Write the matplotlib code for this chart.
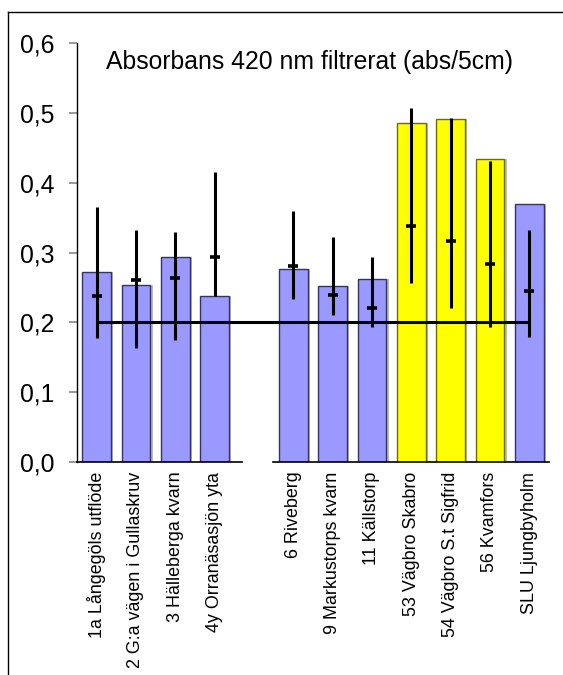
import numpy as np
import matplotlib
matplotlib.use("Agg")
import matplotlib.pyplot as plt
from matplotlib.lines import Line2D

plt.rcParams['font.family'] = ['Liberation Sans', 'DejaVu Sans']

categories = ["1a Långegöls utflöde", "2 G:a vägen i Gullaskruv", "3 Hälleberga kvarn",
              "4y Orranäsasjön yta", "", "6 Riveberg", "9 Markustorps kvarn", "11 Källstorp",
              "53 Vägbro Skabro", "54 Vägbro S.t Sigfrid", "56 Kvamfors", "SLU Ljungbyholm"]
bar_values = [0.272, 0.253, 0.293, 0.237, np.nan, 0.277, 0.252, 0.262, 0.485, 0.491, 0.434, 0.369]
err_high = [0.365, 0.332, 0.330, 0.415, np.nan, 0.359, 0.322, 0.294, 0.507, 0.493, 0.431, 0.332]
err_low = [0.178, 0.163, 0.175, 0.237, np.nan, 0.234, 0.211, 0.193, 0.257, 0.221, 0.194, 0.179]
mid_values = [0.238, 0.261, 0.263, 0.294, np.nan, 0.280, 0.239, 0.221, 0.338, 0.316, 0.283, 0.245]
highlight = [False, False, False, False, False, False, False, False, True, True, True, False]
reference_level = 0.2
yticks = [0.0, 0.1, 0.2, 0.3, 0.4, 0.5, 0.6]
ytick_labels = ["0,0", "0,1", "0,2", "0,3", "0,4", "0,5", "0,6"]
title = "Absorbans 420 nm filtrerat (abs/5cm)"

W, H = 563, 675
fig = plt.figure(figsize=(W / 100, H / 100), dpi=100)
ax = fig.add_axes([77 / W, 1 - 462 / H, 472 / W, 419 / H])

x = np.arange(len(categories))
bw = 0.725
face = ['#FFFF00' if h else '#9999FF' for h in highlight]
edge = ['#6E6E00' if h else '#333366' for h in highlight]

# subtle shadow
ax.bar(x + 0.06, bar_values, width=bw, color='#BBBBBB', edgecolor='none', zorder=1)
ax.bar(x, bar_values, width=bw, color=face, edgecolor=edge, linewidth=1.0, zorder=2)

# error lines
for xi, lo, hi in zip(x, err_low, err_high):
    if np.isnan(lo):
        continue
    ax.plot([xi, xi], [lo, hi], color='black', lw=2.2, solid_capstyle='butt', zorder=4)
ax.plot(x, mid_values, linestyle='none', marker='_', markersize=7, mew=2.6,
        color='black', zorder=5)

# reference line
ax.plot([x[0], x[-1]], [reference_level, reference_level], color='black', lw=2.2,
        solid_capstyle='butt', zorder=3)

ax.set_xlim(-0.5, len(categories) - 0.5)
ax.set_ylim(0, 0.6)

for s in ['top', 'right', 'bottom']:
    ax.spines[s].set_visible(False)
ax.spines['left'].set_color('black')
ax.spines['left'].set_linewidth(1.0)

# bottom axis line (with gap)
ax.plot([-0.5, 3.70], [0, 0], color='black', lw=1.2, clip_on=False, zorder=6)
ax.plot([4.476, 11.5], [0, 0], color='black', lw=1.2, clip_on=False, zorder=6)

ax.set_yticks(yticks)
ax.set_yticklabels(ytick_labels, fontsize=17.8)
ax.tick_params(axis='y', direction='out', length=6, width=1.2, color='#888888', pad=10.5)

ax.set_xticks(x)
ax.set_xticklabels(categories, rotation=90, fontsize=12.9)
ax.tick_params(axis='x', length=0, pad=7)

fig.text(310 / W, 1 - 62 / H, title, ha='center', va='center', fontsize=17.8)

# figure frame
fig.add_artist(Line2D([8 / W, 1.0], [1 - 12 / H, 1 - 12 / H], color='black', lw=1.0))
fig.add_artist(Line2D([8 / W, 8 / W], [0.0, 1 - 12 / H], color='black', lw=1.0))

fig.savefig('out.png', dpi=100)
